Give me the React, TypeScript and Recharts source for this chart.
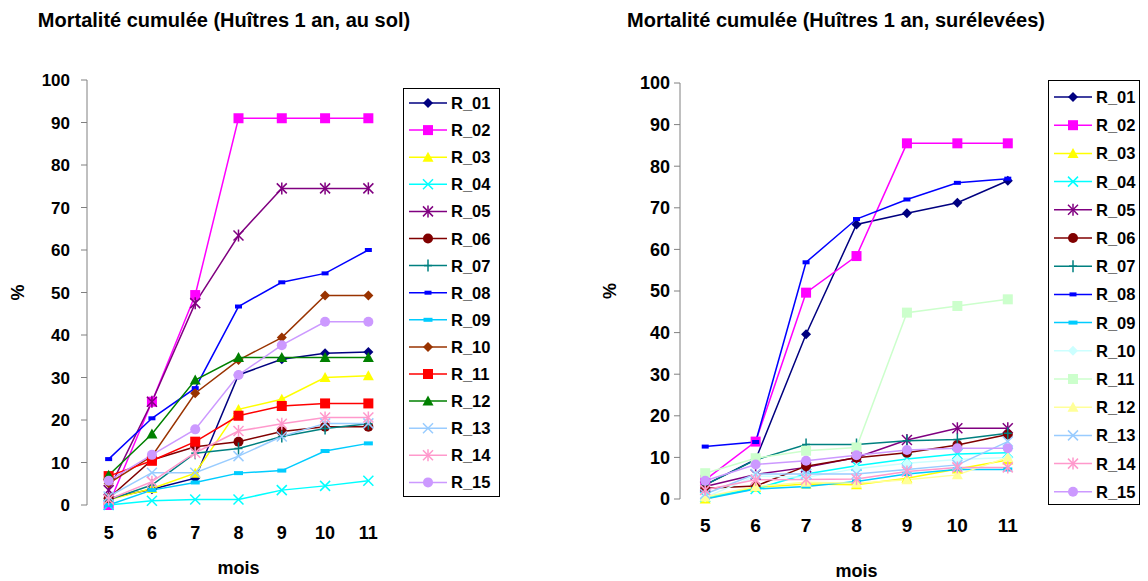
import React from "react";
import { Line, LineChart, XAxis, YAxis } from "recharts";

const FONT = "'Liberation Sans', Arial, Helvetica, sans-serif";

const mois = [5, 6, 7, 8, 9, 10, 11];
const bords = [4.5, 5.5, 6.5, 7.5, 8.5, 9.5, 10.5, 11.5];
const pourcents = [0, 10, 20, 30, 40, 50, 60, 70, 80, 90, 100];
const noms = ["R_01", "R_02", "R_03", "R_04", "R_05", "R_06", "R_07", "R_08", "R_09", "R_10", "R_11", "R_12", "R_13", "R_14", "R_15"];

// Huîtres 1 an, au sol
const sol01 = [1.6, 3.7, 6.3, 30.6, 34.3, 35.7, 36.0];
const sol02 = [0, 24.3, 49.4, 91, 91, 91, 91];
const sol03 = [1.2, 3.9, 7.5, 22.5, 24.9, 30.0, 30.4];
const sol04 = [0, 1.0, 1.3, 1.3, 3.5, 4.5, 5.7];
const sol05 = [3.5, 24.3, 47.5, 63.4, 74.5, 74.5, 74.5];
const sol06 = [1.6, 10.6, 13.7, 14.9, 17.3, 18.4, 18.4];
const sol07 = [1.2, 4.7, 12.2, 13.3, 16.1, 18.0, 19.1];
const sol08 = [10.8, 20.4, 27.5, 46.7, 52.4, 54.5, 60.0];
const sol09 = [0, 3.5, 5.3, 7.5, 8.1, 12.7, 14.5];
const sol10 = [5.1, 11.5, 26.3, 34.1, 39.4, 49.3, 49.3];
const sol11 = [6.8, 10.4, 14.9, 21.0, 23.3, 23.9, 23.9];
const sol12 = [7.0, 16.7, 29.4, 34.7, 34.7, 34.7, 34.7];
const sol13 = [2.0, 7.6, 7.6, 11.5, 16.1, 19.2, 19.2];
const sol14 = [1.3, 5.5, 12.3, 17.4, 19.1, 20.6, 20.6];
const sol15 = [5.7, 11.8, 17.8, 30.6, 37.6, 43.1, 43.1];

// Huîtres 1 an, surélevées
const sur01 = [3.4, 9.5, 39.6, 66.0, 68.7, 71.2, 76.5];
const sur02 = [4.6, 13.8, 49.6, 58.4, 85.5, 85.5, 85.5];
const sur03 = [0, 2.8, 3.6, 3.4, 5.0, 7.2, 9.4];
const sur04 = [0.5, 2.4, 6.0, 8.0, 9.6, 10.8, 11.1];
const sur05 = [3.0, 5.9, 7.6, 10.0, 14.2, 17.0, 17.0];
const sur06 = [2.6, 3.1, 7.9, 9.9, 11.1, 13.0, 15.5];
const sur07 = [3.4, 9.4, 13.1, 13.1, 14.0, 14.3, 15.8];
const sur08 = [12.6, 13.7, 56.9, 67.3, 72.0, 76.0, 77.0];
const sur09 = [0, 2.4, 3.0, 4.2, 6.0, 7.1, 7.1];
const sur10 = [0.4, 5.5, 5.2, 7.3, 8.6, 9.5, 10.0];
const sur11 = [6.2, 9.8, 11.6, 12.4, 44.8, 46.4, 48.0];
const sur12 = [0.5, 3.0, 4.0, 3.8, 4.6, 5.8, 10.0];
const sur13 = [1.2, 6.0, 6.0, 6.0, 7.1, 8.2, 13.8];
const sur14 = [2.2, 4.6, 4.7, 4.8, 6.6, 7.6, 7.6];
const sur15 = [4.4, 8.3, 9.2, 10.5, 11.8, 12.2, 12.2];

const solSeries = [sol01, sol02, sol03, sol04, sol05, sol06, sol07, sol08, sol09, sol10, sol11, sol12, sol13, sol14, sol15];
const surSeries = [sur01, sur02, sur03, sur04, sur05, sur06, sur07, sur08, sur09, sur10, sur11, sur12, sur13, sur14, sur15];

const formes = ["diamond", "square", "triangle", "x", "star", "circle", "plus", "dash", "wide", "diamond", "square", "triangle", "x", "star", "circle"];
const couleursSol = ["#000080", "#FF00FF", "#FFFF00", "#00FFFF", "#800080", "#800000", "#008080", "#0000FF", "#00CCFF", "#993300", "#FF0000", "#008000", "#99CCFF", "#FF99CC", "#CC99FF"];
const couleursSur = ["#000080", "#FF00FF", "#FFFF00", "#00FFFF", "#800080", "#800000", "#008080", "#0000FF", "#00CCFF", "#CCFFFF", "#CCFFCC", "#FFFF99", "#99CCFF", "#FF99CC", "#CC99FF"];

const buildRows = (series: number[][]) =>
  mois.map((m, i) => {
    const row: Record<string, number> = { mois: m };
    noms.forEach((n, k) => {
      row[n] = series[k][i];
    });
    return row;
  });

const Marker = ({ shape, color, cx, cy }: { shape: string; color: string; cx: number; cy: number }) => {
  if (cx == null || cy == null) return null;
  switch (shape) {
    case "diamond":
      return <polygon points={`${cx},${cy - 5} ${cx + 5},${cy} ${cx},${cy + 5} ${cx - 5},${cy}`} fill={color} />;
    case "square":
      return <rect x={cx - 5} y={cy - 5} width={10} height={10} fill={color} />;
    case "triangle":
      return <polygon points={`${cx},${cy - 5.5} ${cx + 5.5},${cy + 4.5} ${cx - 5.5},${cy + 4.5}`} fill={color} />;
    case "x":
      return (
        <g stroke={color} strokeWidth={1.5}>
          <line x1={cx - 5} y1={cy - 5} x2={cx + 5} y2={cy + 5} />
          <line x1={cx - 5} y1={cy + 5} x2={cx + 5} y2={cy - 5} />
        </g>
      );
    case "star":
      return (
        <g stroke={color} strokeWidth={1.5}>
          <line x1={cx - 5} y1={cy - 5} x2={cx + 5} y2={cy + 5} />
          <line x1={cx - 5} y1={cy + 5} x2={cx + 5} y2={cy - 5} />
          <line x1={cx} y1={cy - 6} x2={cx} y2={cy + 6} />
        </g>
      );
    case "circle":
      return <circle cx={cx} cy={cy} r={5} fill={color} />;
    case "plus":
      return (
        <g stroke={color} strokeWidth={1.5}>
          <line x1={cx} y1={cy - 6} x2={cx} y2={cy + 6} />
          <line x1={cx - 4} y1={cy} x2={cx + 4} y2={cy} />
        </g>
      );
    case "dash":
      return <rect x={cx - 3.5} y={cy - 2} width={7} height={4} fill={color} />;
    case "wide":
      return <rect x={cx - 4.5} y={cy - 2} width={9} height={4} fill={color} />;
    default:
      return null;
  }
};

const dotFor = (shape: string, color: string) => (props: any) =>
  <Marker key={`d-${props.index}`} shape={shape} color={color} cx={props.cx} cy={props.cy} />;

interface LegendBoxProps {
  left: number;
  top: number;
  width: number;
  height: number;
  first: number;
  step: number;
  couleurs: string[];
}

const LegendBox = ({ left, top, width, height, first, step, couleurs }: LegendBoxProps) => (
  <svg
    style={{ position: "absolute", left, top }}
    width={width}
    height={height}
  >
    <rect x={0.5} y={0.5} width={width - 1} height={height - 1} fill="#fff" stroke="#000" />
    {noms.map((n, k) => {
      const y = first + k * step;
      return (
        <g key={n}>
          <line x1={6} y1={y} x2={44} y2={y} stroke={couleurs[k]} strokeWidth={1.5} />
          <Marker shape={formes[k]} color={couleurs[k]} cx={25} cy={y} />
          <text x={48} y={y} dominantBaseline="central" fontFamily={FONT} fontSize={16.5} fontWeight="bold" fill="#000">
            {n}
          </text>
        </g>
      );
    })}
  </svg>
);

interface PanelProps {
  left: number;
  width: number;
  top: number;
  yWidth: number;
  xHeight: number;
  right: number;
  series: number[][];
  couleurs: string[];
  yFont: number;
  yMargin: number;
  xFont: number;
  xMargin: number;
  pctX: number;
  moisY: number;
}

const Panel = (p: PanelProps) => {
  const rows = buildRows(p.series);
  return (
    <div style={{ position: "absolute", left: p.left, top: 0 }}>
      <LineChart
        width={p.width}
        height={581}
        data={rows}
        margin={{ top: p.top, right: p.right, bottom: 0, left: 0 }}
      >
        <XAxis
          xAxisId="t"
          type="number"
          dataKey="mois"
          domain={[4.5, 11.5]}
          ticks={bords}
          interval={0}
          tickFormatter={() => ""}
          height={0}
          tickSize={6}
          stroke="#808080"
        />
        <XAxis
          xAxisId="m"
          type="number"
          dataKey="mois"
          domain={[4.5, 11.5]}
          ticks={mois}
          interval={0}
          axisLine={false}
          tickLine={false}
          tickSize={0}
          tickMargin={p.xMargin}
          height={p.xHeight}
          tick={{ fill: "#000", fontSize: p.xFont, fontWeight: "bold", fontFamily: FONT }}
          label={{
            content: (lp: any) => {
              const vb = lp.viewBox;
              return (
                <text x={vb.x + vb.width / 2} y={p.moisY} textAnchor="middle" dominantBaseline="central" fontFamily={FONT} fontSize={18} fontWeight="bold" fill="#000">
                  mois
                </text>
              );
            },
          }}
        />
        <YAxis
          type="number"
          domain={[0, 100]}
          ticks={pourcents}
          interval={0}
          width={p.yWidth}
          tickSize={6}
          tickMargin={p.yMargin}
          stroke="#808080"
          tick={{ fill: "#000", fontSize: p.yFont, fontWeight: "bold", fontFamily: FONT }}
          label={{
            content: (lp: any) => {
              const vb = lp.viewBox;
              const cy = vb.y + vb.height / 2;
              return (
                <text x={p.pctX} y={cy} transform={`rotate(-90, ${p.pctX}, ${cy})`} textAnchor="middle" dominantBaseline="central" fontFamily={FONT} fontSize={18} fontWeight="bold" fill="#000">
                  %
                </text>
              );
            },
          }}
        />
        {noms.map((n, k) => (
          <Line
            key={n}
            xAxisId="m"
            dataKey={n}
            type="linear"
            stroke={p.couleurs[k]}
            strokeWidth={1.5}
            dot={dotFor(formes[k], p.couleurs[k])}
            activeDot={false}
            isAnimationActive={false}
          />
        ))}
      </LineChart>
    </div>
  );
};

const titleStyle = (cx: number): React.CSSProperties => ({
  position: "absolute",
  left: cx - 250,
  width: 500,
  top: 8,
  textAlign: "center",
  fontFamily: FONT,
  fontSize: 20,
  fontWeight: "bold",
  lineHeight: "24px",
  color: "#000",
  whiteSpace: "nowrap",
});

const App = () => (
  <div style={{ position: "absolute", left: 0, top: 0, width: 1148, height: 581, background: "#fff", overflow: "hidden" }}>
    <div style={titleStyle(224)}>Mortalité cumulée (Huîtres 1 an, au sol)</div>
    <div style={titleStyle(836)}>Mortalité cumulée (Huîtres 1 an, surélevées)</div>
    <Panel
      left={0}
      width={400}
      top={80}
      yWidth={87}
      xHeight={76}
      right={10}
      series={solSeries}
      couleurs={couleursSol}
      yFont={17}
      yMargin={11}
      xFont={18}
      xMargin={21}
      pctX={18}
      moisY={568}
    />
    <Panel
      left={574}
      width={470}
      top={83}
      yWidth={106}
      xHeight={82}
      right={11}
      series={surSeries}
      couleurs={couleursSur}
      yFont={18}
      yMargin={4}
      xFont={19}
      xMargin={20}
      pctX={36}
      moisY={571}
    />
    <LegendBox left={403} top={88} width={97} height={409} first={15} step={27.1} couleurs={couleursSol} />
    <LegendBox left={1048} top={80} width={92} height={425} first={17} step={28.2} couleurs={couleursSur} />
  </div>
);

export default App;
